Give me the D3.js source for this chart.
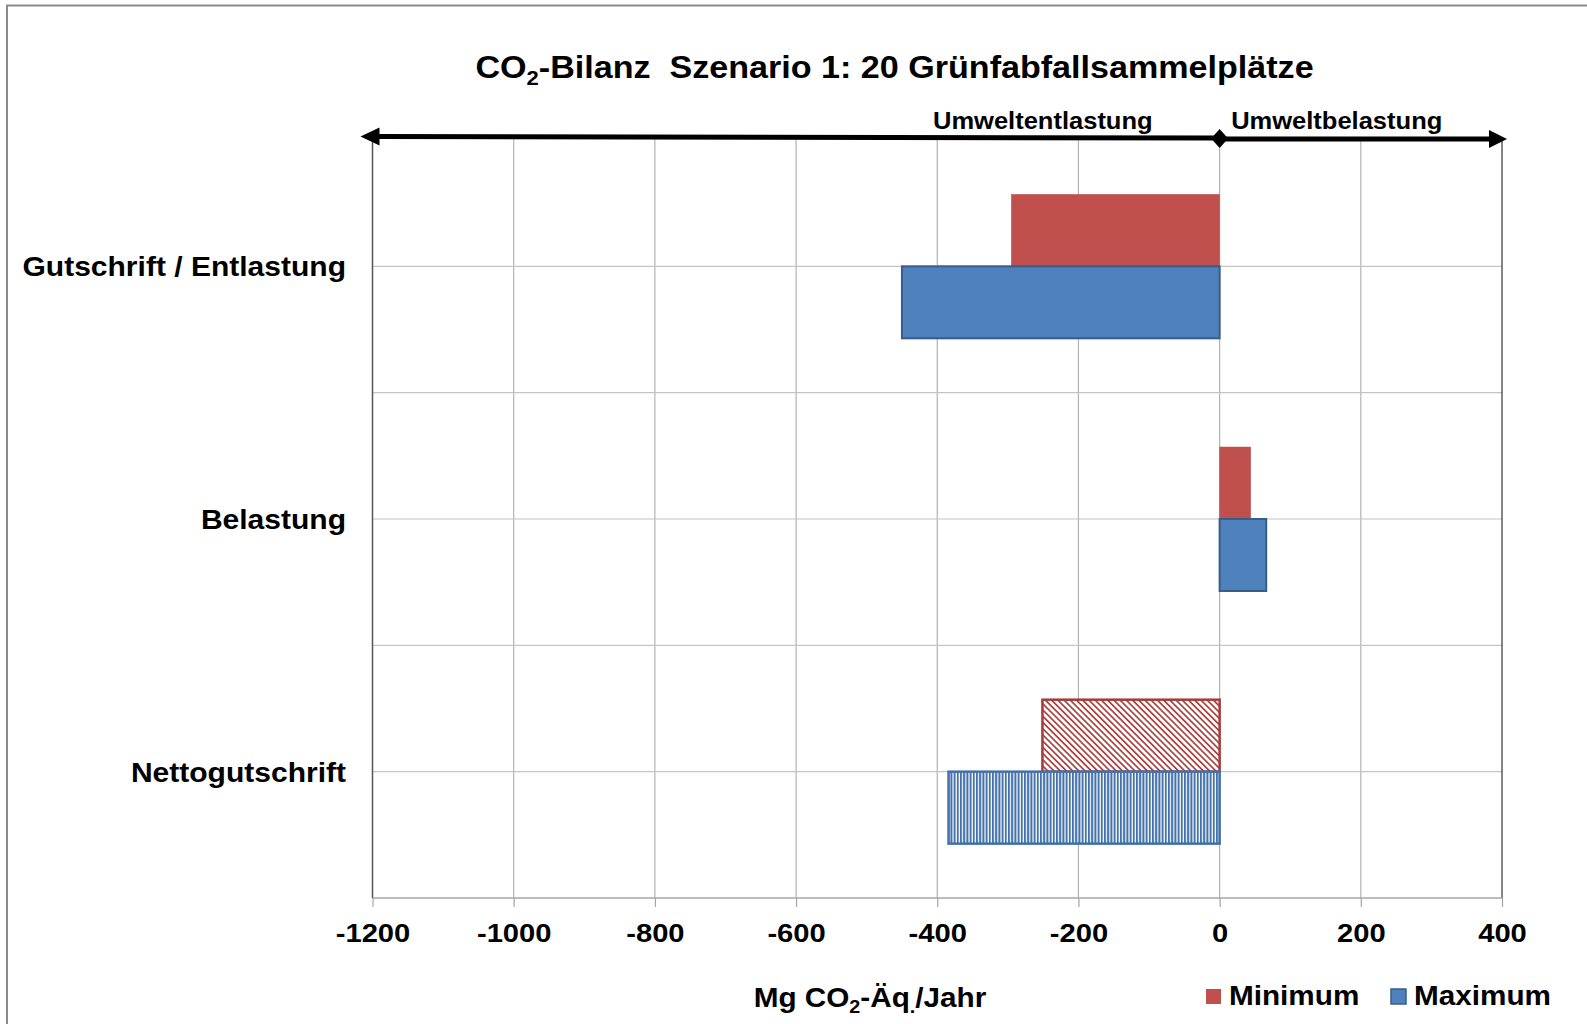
<!DOCTYPE html>
<html>
<head>
<meta charset="utf-8">
<script src="https://cdn.jsdelivr.net/npm/d3@7"></script>
<style>
  body { margin: 0; background: #fff; }
  svg { display: block; font-family: "Liberation Sans", Arial, sans-serif; font-weight: bold; }
</style>
</head>
<body>
<div id="chart"></div>
<script>
const categories = ["Gutschrift / Entlastung", "Belastung", "Nettogutschrift"];
const seriesNames = ["Minimum", "Maximum"];
const minimumValues = [-295, 44, -251];
const maximumValues = [-450, 66, -384];
const xTicks = [-1200, -1000, -800, -600, -400, -200, 0, 200, 400];

const width = 1587, height = 1024;
const margin = { top: 140, right: 85, bottom: 126, left: 372.5 };
const sx = 1.1; // text in the reference is drawn a bit wide

const svg = d3.select("#chart").append("svg")
    .attr("width", width)
    .attr("height", height);

// outer frame
svg.append("rect")
    .attr("x", 7).attr("y", 5.5)
    .attr("width", 1640).attr("height", 1060)
    .attr("fill", "none")
    .attr("stroke", "#8a8a8a")
    .attr("stroke-width", 2);

const x = d3.scaleLinear()
    .domain([-1200, 400])
    .range([margin.left, width - margin.right]);

const y = d3.scaleBand()
    .domain(categories)
    .range([margin.top, height - margin.bottom])
    .paddingInner(0).paddingOuter(0);

const ySub = d3.scaleBand()
    .domain(seriesNames)
    .range([0, y.bandwidth()])
    .paddingInner(0).paddingOuter(0.755);

const rows = categories.map((c, i) => ({ category: c, Minimum: minimumValues[i], Maximum: maximumValues[i] }));

// hatch patterns for the last category
const defs = svg.append("defs");
const pRed = defs.append("pattern")
    .attr("id", "hatch-red")
    .attr("patternUnits", "userSpaceOnUse")
    .attr("width", 4.4).attr("height", 4.4)
    .attr("patternTransform", "rotate(-45)");
pRed.append("rect").attr("width", 4.4).attr("height", 4.4).attr("fill", "#fff");
pRed.append("line")
    .attr("x1", 0).attr("y1", 0).attr("x2", 0).attr("y2", 4.4)
    .attr("stroke", "#a8403d").attr("stroke-width", 3.4);

const pBlue = defs.append("pattern")
    .attr("id", "hatch-blue")
    .attr("patternUnits", "userSpaceOnUse")
    .attr("width", 3.2).attr("height", 10);
pBlue.append("rect").attr("width", 3.2).attr("height", 10).attr("fill", "#fff");
pBlue.append("line")
    .attr("x1", 1).attr("y1", 0).attr("x2", 1).attr("y2", 10)
    .attr("stroke", "#4572ab").attr("stroke-width", 2);

// gridlines
const grid = svg.append("g");
grid.selectAll(".vgrid")
    .data(xTicks.slice(1, -1))
    .enter().append("line")
    .attr("x1", d => x(d)).attr("x2", d => x(d))
    .attr("y1", margin.top - 2).attr("y2", height - margin.bottom)
    .attr("stroke", "#b3b3b3").attr("stroke-width", 1.2);

const hLines = [];
categories.forEach(c => {
    hLines.push(y(c) + y.bandwidth() / 2);
    hLines.push(y(c) + y.bandwidth());
});
grid.selectAll(".hgrid")
    .data(hLines.slice(0, -1))
    .enter().append("line")
    .attr("x1", x(-1200)).attr("x2", x(400))
    .attr("y1", d => d).attr("y2", d => d)
    .attr("stroke", "#c4c4c4").attr("stroke-width", 1.2);

// right edge line
svg.append("line")
    .attr("x1", x(400)).attr("x2", x(400))
    .attr("y1", margin.top - 2).attr("y2", height - margin.bottom)
    .attr("stroke", "#333").attr("stroke-width", 1.2);

// bars
const colors = { Minimum: "#c0504d", Maximum: "#4f81bd" };
const strokes = { Minimum: "#c0504d", Maximum: "#385d8a" };
const hatchStroke = { Minimum: "#a33c3a", Maximum: "#4470a8" };

const barGroups = svg.append("g").selectAll("g")
    .data(rows)
    .enter().append("g")
    .attr("transform", d => `translate(0,${y(d.category)})`);

barGroups.selectAll("rect")
    .data((d, i) => seriesNames.map(s => ({ key: s, value: d[s], hatched: i === 2 })))
    .enter().append("rect")
    .attr("x", d => x(Math.min(0, d.value)))
    .attr("width", d => Math.abs(x(d.value) - x(0)))
    .attr("y", d => ySub(d.key))
    .attr("height", ySub.bandwidth())
    .attr("fill", d => d.hatched ? (d.key === "Minimum" ? "url(#hatch-red)" : "url(#hatch-blue)") : colors[d.key])
    .attr("stroke", d => d.hatched ? hatchStroke[d.key] : strokes[d.key])
    .attr("stroke-width", d => d.hatched ? 2.5 : (d.key === "Maximum" ? 2 : 0.5));

// left axis
const yAxis = svg.append("g")
    .attr("transform", `translate(${margin.left},0)`)
    .call(d3.axisLeft(y).tickSize(0).tickPadding(0));
yAxis.select(".domain").remove();
yAxis.append("line")
    .attr("x1", 0).attr("x2", 0)
    .attr("y1", margin.top - 4).attr("y2", height - margin.bottom)
    .attr("stroke", "#555").attr("stroke-width", 1.5);
yAxis.selectAll("text")
    .attr("x", -26.5 / sx)
    .attr("dy", "0.37em")
    .attr("transform", `scale(${sx},1)`)
    .style("font-family", "'Liberation Sans', Arial, sans-serif")
    .style("font-weight", "bold")
    .style("font-size", "27.3px")
    .style("fill", "#000");

// bottom axis
const xAxis = svg.append("g")
    .attr("transform", `translate(0,${height - margin.bottom})`)
    .call(d3.axisBottom(x).tickValues(xTicks).tickFormat(d => String(d)).tickSize(9).tickPadding(16));
xAxis.select(".domain")
    .attr("d", `M${x(-1200)},0H${x(400)}`)
    .attr("stroke", "#a6a6a6").attr("stroke-width", 1.5);
xAxis.selectAll(".tick line").attr("stroke", "#a6a6a6").attr("stroke-width", 1.2);
xAxis.selectAll("text")
    .attr("transform", `scale(${sx},1)`)
    .style("font-family", "'Liberation Sans', Arial, sans-serif")
    .style("font-weight", "bold")
    .style("font-size", "26.5px")
    .style("fill", "#000");

// arrows above plot
const arrowY = margin.top - 2;
const ar = svg.append("g");
ar.append("line")
    .attr("x1", x(0)).attr("x2", x(-1200) + 4)
    .attr("y1", arrowY).attr("y2", arrowY - 1.5)
    .attr("stroke", "#000").attr("stroke-width", 5);
ar.append("path")
    .attr("d", `M${x(-1200) - 12},${arrowY - 1.5}L${x(-1200) + 7},${arrowY - 10.5}L${x(-1200) + 7},${arrowY + 7.5}Z`)
    .attr("fill", "#000");
ar.append("line")
    .attr("x1", x(0)).attr("x2", x(400) - 8)
    .attr("y1", arrowY + 1).attr("y2", arrowY + 1)
    .attr("stroke", "#000").attr("stroke-width", 5);
ar.append("path")
    .attr("d", `M${x(400) + 5},${arrowY + 1}L${x(400) - 13},${arrowY - 8}L${x(400) - 13},${arrowY + 10}Z`)
    .attr("fill", "#000");
ar.append("path")
    .attr("d", `M${x(0)},${arrowY - 9}L${x(0) + 8.5},${arrowY + 0.5}L${x(0)},${arrowY + 10}L${x(0) - 8.5},${arrowY + 0.5}Z`)
    .attr("fill", "#000");

function wideText(px, py, anchor, size) {
    return svg.append("text")
        .attr("transform", `translate(${px},${py}) scale(${sx},1)`)
        .attr("text-anchor", anchor)
        .style("font-size", size + "px")
        .style("fill", "#000");
}

wideText(x(0) - 67, 129, "end", 23.2).text("Umweltentlastung");
wideText(x(0) + 11.5, 129, "start", 23.2).text("Umweltbelastung");

// title
const title = wideText(894.5, 78, "middle", 31).style("white-space", "pre");
title.append("tspan").text("CO");
title.append("tspan").attr("dy", 7).style("font-size", "20px").text("2");
title.append("tspan").attr("dy", -7).text("-Bilanz  Szenario 1: 20 Grünfabfallsammelplätze");

// x axis title
const xt = wideText(870, 1007, "middle", 27);
xt.append("tspan").text("Mg CO");
xt.append("tspan").attr("dy", 6).style("font-size", "18px").text("2");
xt.append("tspan").attr("dy", -6).text("-Äq");
xt.append("tspan").attr("dy", 6).style("font-size", "18px").text(".");
xt.append("tspan").attr("dy", -6).text("/Jahr");

// legend
const legendX = [1206, 1391];
const lg = svg.append("g").selectAll("g")
    .data(seriesNames)
    .enter().append("g");
lg.append("rect")
    .attr("x", (d, i) => legendX[i])
    .attr("y", 989)
    .attr("width", 15).attr("height", 15)
    .attr("fill", d => colors[d])
    .attr("stroke", d => d === "Maximum" ? "#385d8a" : "none")
    .attr("stroke-width", 1.5);
lg.append("text")
    .attr("transform", (d, i) => `translate(${legendX[i] + 23},1005) scale(${sx},1)`)
    .style("font-size", "27px")
    .style("fill", "#000")
    .text(d => d);
</script>
</body>
</html>
